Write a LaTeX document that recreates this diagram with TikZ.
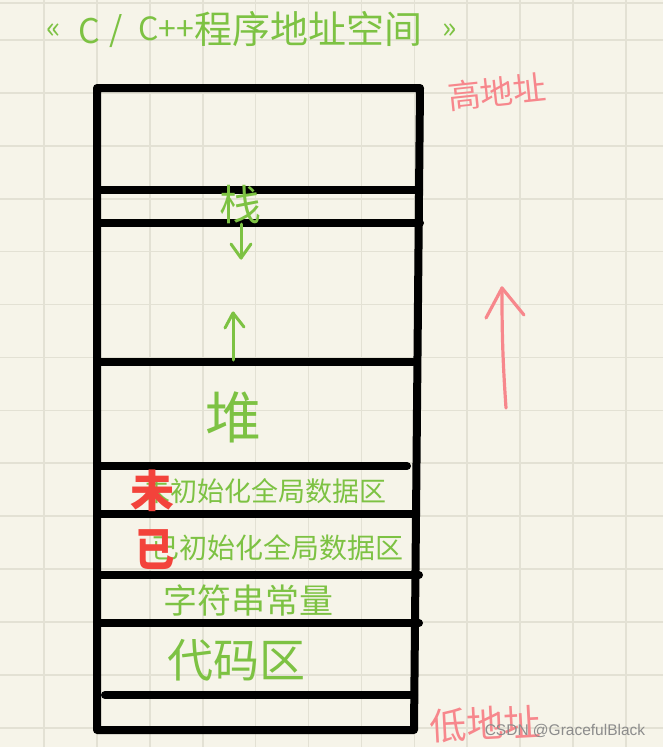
\documentclass[tikz,border=0pt]{standalone}
\usepackage{fontspec}
\setmainfont{Liberation Sans}
\newfontfamily\cjk{Noto Sans CJK SC}
\usetikzlibrary{arrows.meta}
\definecolor{paper}{HTML}{F6F4E9}
\definecolor{gridc}{HTML}{E3E1D4}
\definecolor{hgreen}{HTML}{7DC243}
\definecolor{hpink}{HTML}{F7878C}
\definecolor{hred}{HTML}{F3433B}
\definecolor{wmark}{HTML}{8C8C8C}
\newcommand\hfs[1]{\fontsize{#1}{#1}\selectfont}
\begin{document}
\begin{tikzpicture}[x=1pt,y=-1pt,
  wall/.style={line width=8pt, line cap=round, line join=round, black},
  gridline/.style={gridc, line width=1.6pt},
  gtext/.style={text=hgreen, inner sep=0pt, font=\cjk},
  ptext/.style={text=hpink, inner sep=0pt, font=\cjk},
  rtext/.style={text=hred, inner sep=0pt, font=\cjk\bfseries},
  garrow/.style={hgreen, line width=3pt, line cap=round, line join=round},
  parrow/.style={hpink, line width=3.2pt, line cap=round, line join=round}]
\fill[paper] (0,0) rectangle (663,747);
\useasboundingbox (0,0) rectangle (663,747);
% grid
\foreach \i in {0,...,11} \draw[gridline] ({44+52.9*\i},0) -- ++(0,747);
\foreach \j in {0,...,13} \draw[gridline] (0,{40+52.9*\j}) -- ++(663,0);
\draw[gridline] (0,3) -- (663,3);
% title
\node[gtext, font=\cjk\hfs{30}] (t1) at (54,31) {«};
\node[gtext, font=\cjk\hfs{34}] (t2) at (89,31) {C};
\node[gtext, font=\cjk\hfs{34}] (t3) at (116,31) {/};
\node[gtext, font=\cjk\hfs{32}] (t4) at (166,29) {C++};
\node[gtext, font=\cjk\hfs{38}] (t5) at (308,29) {程序地址空间};
\node[gtext, font=\cjk\hfs{30}] (t6) at (450,31) {»};
% box
\coordinate (tl) at (97,88);
\coordinate (tr) at (420,88);
\coordinate (br) at (414,730);
\coordinate (bl) at (97,730);
\draw[wall] (bl) -- (tl) -- (tr) -- (br) -- cycle;
\draw[wall] (97,190) -- (419,190);
\draw[wall] (97,223) -- (420,223);
\draw[wall] (97,362) -- (413,362);
\draw[wall] (97,466) -- (407,466);
\draw[wall] (97,514) -- (416,514);
\draw[wall] (97,575) -- (419,575);
\draw[wall] (97,623) -- (419,623);
\draw[wall] (105,695) -- (414,695);
% stack / heap
\node[gtext, font=\cjk\hfs{42}] (zhan) at (240,205) {栈};
\coordinate (d1) at (241,224);
\coordinate (d2) at (241,258);
\draw[garrow] (d1) -- (d2);
\draw[garrow] (231,244) -- (d2) -- (251,244);
\coordinate (u1) at (233,360);
\coordinate (u2) at (233,313);
\draw[garrow] (u1) -- (u2);
\draw[garrow] (225,328) -- (u2) -- (244,327);
\node[gtext, font=\cjk\hfs{56}] (dui) at (233,417) {堆};
% data areas
\node[gtext, font=\cjk\hfs{27}] (bss) at (265,491) {未初始化全局数据区};
\node[rtext, font=\cjk\bfseries\hfs{44}] (wei) at (152,491) {未};
\node[gtext, font=\cjk\hfs{28}] (data) at (277,548) {已初始化全局数据区};
\node[rtext, font=\cjk\bfseries\hfs{46}, xscale=0.85] (yi) at (155,550) {已};
\node[gtext, font=\cjk\hfs{34}] (str) at (248,600) {字符串常量};
\node[gtext, font=\cjk\hfs{46}] (code) at (236,660) {代码区};
% high/low address
\node[ptext, font=\cjk\hfs{33}, rotate=6] (high) at (497,92) {高地址};
\node[ptext, font=\cjk\hfs{37}, rotate=3] (low) at (485,724) {低地址};
\coordinate (p1) at (506,408);
\coordinate (p2) at (502,288);
\draw[parrow] (p1) to[bend left=2] (p2);
\draw[parrow] (486,318) -- (p2) -- (524,315);
% watermark
\node[text=wmark, inner sep=0pt, font=\hfs{15.5}] (wm) at (565,731) {CSDN @GracefulBlack};
\end{tikzpicture}
\end{document}
